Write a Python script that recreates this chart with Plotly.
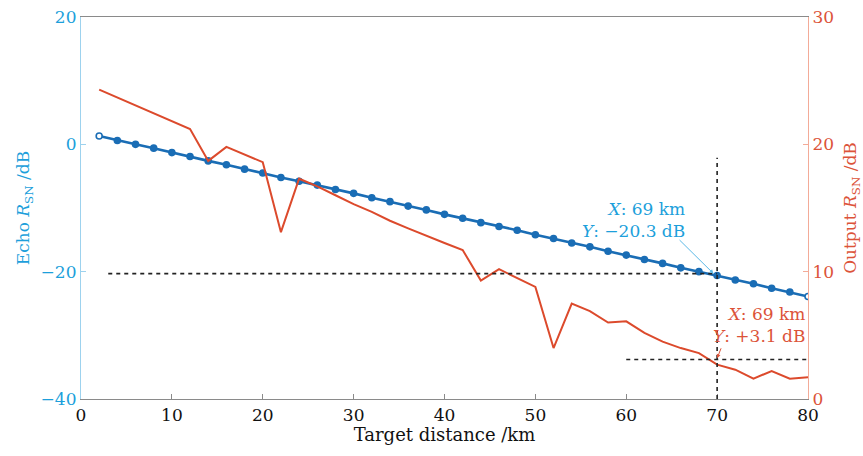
import plotly.graph_objects as go

# Target distance (km) sampled for the echo SNR
echo_x = [2, 4, 6, 8, 10, 12, 14, 16, 18, 20, 22, 24, 26, 28, 30, 32, 34, 36, 38, 40,
          42, 44, 46, 48, 50, 52, 54, 56, 58, 60, 62, 64, 66, 68, 70, 72, 74, 76, 78, 80]
# Echo SNR (dB), left axis
echo_snr = [1.3, 0.6, 0.0, -0.6, -1.3, -1.9, -2.6, -3.2, -3.9, -4.5, -5.2, -5.8, -6.4,
            -7.1, -7.7, -8.4, -9.0, -9.7, -10.3, -11.0, -11.6, -12.3, -12.9, -13.5,
            -14.2, -14.8, -15.5, -16.1, -16.8, -17.4, -18.1, -18.7, -19.4, -20.0,
            -20.6, -21.3, -21.9, -22.6, -23.2, -23.9]

# Output SNR after processing (dB), right axis
out_x = [2, 12, 14, 16, 20, 22, 24, 26, 28, 30, 32, 34, 36, 38, 40, 42, 44, 46, 50,
         52, 54, 56, 58, 60, 62, 64, 66, 68, 70, 72, 74, 76, 78, 80]
out_snr = [24.3, 21.2, 18.7, 19.8, 18.6, 13.1, 17.3, 16.7, 16.0, 15.3, 14.7, 14.0,
           13.4, 12.8, 12.25, 11.7, 9.3, 10.2, 8.8, 4.0, 7.5, 6.9, 6.0, 6.1, 5.2,
           4.5, 4.0, 3.6, 2.7, 2.3, 1.6, 2.2, 1.6, 1.7]

x_ticks = [0, 10, 20, 30, 40, 50, 60, 70, 80]
left_ticks = [-40, -20, 0, 20]
right_ticks = [0, 10, 20, 30]

# Data-cursor readings
cursor_x = 70
echo_mark = -20.3
out_mark = 3.1
echo_label = "<i>X</i>: 69 km<br><i>Y</i>: \u221220.3 dB"
out_label = "<i>X</i>: 69 km<br><i>Y</i>: +3.1 dB"

FONT = "DejaVu Serif"
FS = 17
BLUE_TXT = "#1d9fdb"
BLUE_LINE = "#1a6db5"
BLUE_AXIS = "#9dd2ee"
RED_TXT = "#dc5339"
RED_LINE = "#dc4a2c"
RED_AXIS = "#f3ab98"

n = len(echo_x)
marker_fill = ["white" if i in (0, n - 1) else BLUE_LINE for i in range(n)]

fig = go.Figure()
fig.add_trace(go.Scatter(
    x=echo_x, y=echo_snr, mode="lines+markers", yaxis="y",
    line=dict(color=BLUE_LINE, width=2.6),
    marker=dict(size=6, color=marker_fill, line=dict(color=BLUE_LINE, width=1.6)),
    showlegend=False, hoverinfo="skip"))
fig.add_trace(go.Scatter(
    x=out_x, y=out_snr, mode="lines", yaxis="y2",
    line=dict(color=RED_LINE, width=2),
    showlegend=False, hoverinfo="skip"))

dash = dict(color="#222222", width=1.6, dash="4px,4px")
shapes = [
    dict(type="line", xref="x", yref="y", x0=cursor_x, x1=cursor_x, y0=-40, y1=-2.1, line=dash),
    dict(type="line", xref="x", yref="y", x0=3, x1=cursor_x, y0=echo_mark, y1=echo_mark, line=dash),
    dict(type="line", xref="x", yref="y2", x0=60, x1=80, y0=out_mark, y1=out_mark, line=dash),
]

annotations = [
    dict(x=66.7, y=-11.9, xref="x", yref="y", text=echo_label, showarrow=False,
         xanchor="right", yanchor="middle", align="right",
         font=dict(family=FONT, size=FS, color=BLUE_TXT)),
    dict(x=69.6, y=echo_mark, ax=65.7, ay=-14.8, xref="x", yref="y", axref="x", ayref="y",
         text="", showarrow=True, arrowhead=2, arrowsize=0.8, arrowwidth=1,
         arrowcolor="#5bb8e6"),
    dict(x=79.9, y=5.8, xref="x", yref="y2", text=out_label, showarrow=False,
         xanchor="right", yanchor="middle", align="right",
         font=dict(family=FONT, size=FS, color=RED_TXT)),
    dict(x=70.0, y=out_mark + 0.1, ax=70.5, ay=4.1, xref="x", yref="y2", axref="x", ayref="y2",
         text="", showarrow=True, arrowhead=2, arrowsize=0.8, arrowwidth=1,
         arrowcolor=RED_TXT),
]

fig.update_layout(
    width=863, height=456,
    margin=dict(l=81, r=55, t=17, b=57, autoexpand=False),
    paper_bgcolor="white", plot_bgcolor="white",
    font=dict(family=FONT, size=FS, color="#111111"),
    shapes=shapes, annotations=annotations,
    xaxis=dict(
        range=[0, 80], tickvals=x_ticks, showgrid=False, zeroline=False,
        showline=True, linecolor="#8a8a8a", linewidth=1.2, mirror=True,
        ticks="inside", ticklen=5, tickcolor="#8a8a8a", automargin=False,
        tickfont=dict(family=FONT, size=FS, color="#111111"),
        title=dict(text="Target distance /km", standoff=4,
                   font=dict(family=FONT, size=18, color="#111111")),
    ),
    yaxis=dict(
        range=[-40, 20], tickvals=left_ticks,
        ticktext=["\u221240", "\u221220", "0", "20"],
        showgrid=False, zeroline=False, automargin=False,
        showline=True, linecolor=BLUE_AXIS, linewidth=1.2,
        ticks="inside", ticklen=5, tickcolor=BLUE_AXIS,
        tickfont=dict(family=FONT, size=FS, color=BLUE_TXT),
        title=dict(text="Echo <i>R</i><sub>SN</sub> /dB", standoff=6,
                   font=dict(family=FONT, size=FS, color=BLUE_TXT)),
    ),
    yaxis2=dict(
        range=[0, 30], tickvals=right_ticks, overlaying="y", side="right",
        showgrid=False, zeroline=False, automargin=False,
        showline=True, linecolor=RED_AXIS, linewidth=1.2,
        ticks="inside", ticklen=5, tickcolor=RED_AXIS,
        tickfont=dict(family=FONT, size=FS, color=RED_TXT),
        title=dict(text="Output <i>R</i><sub>SN</sub> /dB", standoff=16,
                   font=dict(family=FONT, size=FS, color=RED_TXT)),
    ),
)

fig.write_html("out.html")
